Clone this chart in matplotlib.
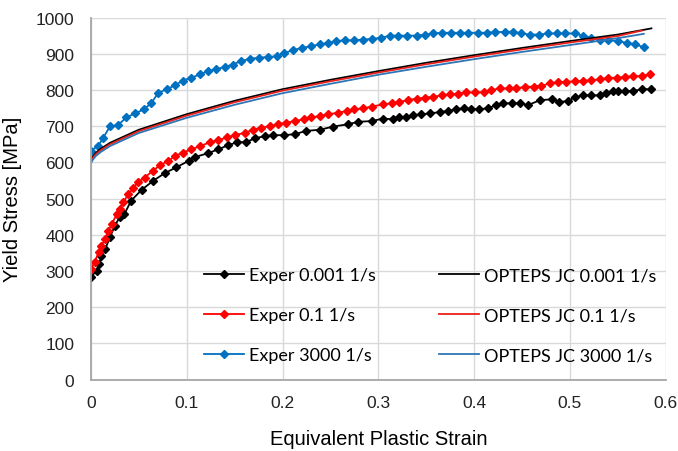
import matplotlib
matplotlib.use("Agg")
import matplotlib.pyplot as plt

exp_slow_x = [0.0, 0.006, 0.009, 0.011, 0.015, 0.02, 0.025, 0.03, 0.035, 0.042, 0.053, 0.065,
              0.077, 0.089, 0.102, 0.109, 0.122, 0.133, 0.143, 0.152, 0.162, 0.171, 0.182, 0.19,
              0.202, 0.213, 0.225, 0.239, 0.253, 0.268, 0.279, 0.293, 0.305, 0.315, 0.322, 0.329,
              0.336, 0.345, 0.354, 0.364, 0.373, 0.381, 0.389, 0.397, 0.405, 0.414, 0.423, 0.43,
              0.439, 0.448, 0.456, 0.469, 0.481, 0.489, 0.498, 0.505, 0.514, 0.522, 0.531, 0.538,
              0.545, 0.55, 0.557, 0.566, 0.575, 0.585]
exp_slow_y = [283, 301, 320, 342, 361, 393, 425, 448, 457, 494, 524, 549,
              570, 586, 604, 615, 625, 636, 647, 655, 656, 666, 673, 675,
              675, 678, 687, 690, 699, 705, 712, 714, 721, 719, 724, 726,
              730, 733, 735, 739, 742, 747, 749, 747, 747, 749, 758, 763,
              763, 763, 758, 772, 774, 767, 769, 780, 785, 785, 785, 792,
              797, 797, 797, 797, 802, 802]

exp_mid_x = [0.0, 0.004, 0.008, 0.011, 0.015, 0.018, 0.022, 0.027, 0.03, 0.034, 0.039, 0.044,
             0.049, 0.056, 0.065, 0.072, 0.081, 0.088, 0.096, 0.105, 0.114, 0.124, 0.133, 0.142,
             0.15, 0.161, 0.169, 0.178, 0.187, 0.195, 0.204, 0.213, 0.222, 0.23, 0.239, 0.248,
             0.258, 0.267, 0.275, 0.284, 0.293, 0.305, 0.314, 0.322, 0.331, 0.34, 0.349, 0.357,
             0.366, 0.375, 0.383, 0.392, 0.401, 0.41, 0.418, 0.427, 0.436, 0.444, 0.453, 0.462,
             0.47, 0.479, 0.488, 0.496, 0.505, 0.514, 0.522, 0.531, 0.54, 0.549, 0.557, 0.566,
             0.575, 0.583]
exp_mid_y = [306, 324, 352, 370, 388, 411, 430, 457, 471, 490, 512, 528,
             545, 558, 577, 592, 604, 618, 627, 636, 645, 655, 661, 669,
             675, 682, 690, 696, 700, 705, 710, 714, 719, 724, 728, 733,
             737, 742, 747, 749, 754, 760, 763, 767, 772, 776, 779, 781,
             785, 788, 790, 793, 793, 794, 800, 804, 804, 804, 809, 809,
             811, 818, 822, 822, 824, 825, 827, 829, 833, 834, 836, 838,
             838, 843]

exp_fast_x = [0.0, 0.0076, 0.013, 0.02, 0.028, 0.037, 0.046, 0.055, 0.063, 0.07, 0.079, 0.088,
              0.096, 0.105, 0.114, 0.122, 0.131, 0.14, 0.148, 0.157, 0.166, 0.175, 0.185, 0.194,
              0.202, 0.211, 0.22, 0.23, 0.239, 0.248, 0.256, 0.265, 0.275, 0.284, 0.293, 0.303,
              0.312, 0.321, 0.33, 0.34, 0.349, 0.357, 0.366, 0.376, 0.385, 0.394, 0.404, 0.413,
              0.422, 0.432, 0.441, 0.449, 0.458, 0.468, 0.477, 0.486, 0.495, 0.505, 0.514, 0.522,
              0.531, 0.54, 0.55, 0.559, 0.568, 0.577]
exp_fast_y = [632, 645, 668, 700, 702, 724, 735, 746, 763, 791, 802, 813,
              826, 834, 843, 852, 857, 864, 870, 880, 886, 889, 891, 893,
              902, 910, 916, 921, 926, 930, 935, 937, 937, 939, 941, 944,
              950, 950, 950, 950, 953, 956, 958, 958, 958, 958, 958, 958,
              960, 960, 961, 956, 953, 953, 956, 956, 956, 956, 950, 944,
              939, 937, 935, 930, 926, 918]

# OPTEPS JC fitted curves
jc_slow_x = [0.0, 0.002, 0.005, 0.01, 0.02, 0.05, 0.1, 0.15, 0.2, 0.25, 0.3, 0.35, 0.4, 0.45, 0.5, 0.55, 0.585]
jc_slow_y = [605, 616, 626, 637, 654, 690, 733, 770, 802, 828, 852, 875, 896, 916, 935, 953, 970]
jc_mid_x = [0.0, 0.002, 0.005, 0.01, 0.02, 0.05, 0.1, 0.15, 0.2, 0.25, 0.3, 0.35, 0.4, 0.45, 0.5, 0.55, 0.575]
jc_mid_y = [602, 612, 622, 633, 650, 686, 729, 766, 798, 824, 848, 871, 892, 912, 931, 949, 964]
jc_fast_x = [0.0, 0.002, 0.005, 0.01, 0.02, 0.05, 0.1, 0.15, 0.2, 0.25, 0.3, 0.35, 0.4, 0.45, 0.5, 0.55, 0.577]
jc_fast_y = [597, 607, 617, 628, 645, 681, 723, 759, 791, 817, 842, 864, 885, 905, 924, 943, 955]

x_ticks = [0, 0.1, 0.2, 0.3, 0.4, 0.5, 0.6]
x_tick_labels = ["0", "0.1", "0.2", "0.3", "0.4", "0.5", "0.6"]
y_ticks = list(range(0, 1001, 100))

plt.rcParams["font.family"] = ["Liberation Sans", "DejaVu Sans"]

fig = plt.figure(figsize=(6.78, 4.52), dpi=100)
ax = fig.add_axes([0.134, 0.158, 0.848, 0.801])

black = "#000000"
red = "#ff0000"
blue = "#0070c0"

mk = dict(marker="D", markersize=4.5, linewidth=1.3)
ax.plot(exp_slow_x, exp_slow_y, color=black, label="Exper 0.001 1/s", **mk)
ax.plot(exp_mid_x, exp_mid_y, color=red, label="Exper 0.1 1/s", **mk)
ax.plot(exp_fast_x, exp_fast_y, color=blue, label="Exper 3000 1/s", **mk)
ax.plot(jc_slow_x, jc_slow_y, color=black, linewidth=1.3, label="OPTEPS JC 0.001 1/s")
ax.plot(jc_mid_x, jc_mid_y, color="#e8201c", linewidth=1.3, label="OPTEPS JC 0.1 1/s")
ax.plot(jc_fast_x, jc_fast_y, color="#2e75b6", linewidth=1.3, label="OPTEPS JC 3000 1/s")

ax.set_xlim(0, 0.6)
ax.set_ylim(0, 1000)
ax.set_xticks(x_ticks)
ax.set_xticklabels(x_tick_labels)
ax.set_yticks(y_ticks)
ax.grid(True, color="#d9d9d9", linewidth=1.0)
ax.set_axisbelow(True)
for side in ["top", "right"]:
    ax.spines[side].set_visible(False)
for side in ["left", "bottom"]:
    ax.spines[side].set_color("#a6a6a6")
    ax.spines[side].set_linewidth(1.3)
ax.tick_params(length=0, labelsize=12.5, colors="#222222")
ax.tick_params(axis="y", pad=12)
ax.tick_params(axis="x", pad=11)

ax.set_xlabel("Equivalent Plastic Strain", fontsize=14.5, labelpad=14)
ax.set_ylabel("Yield Stress [MPa]", fontsize=14.5, labelpad=10)

leg = ax.legend(ncol=2, loc="lower left", bbox_to_anchor=(0.181, 0.02), frameon=False,
                prop={"family": "Lato", "size": 13}, handlelength=2.2, handletextpad=0.3,
                columnspacing=3.5, labelspacing=1.33, markerscale=0.8, borderpad=0)

fig.savefig("out.png", dpi=100)
